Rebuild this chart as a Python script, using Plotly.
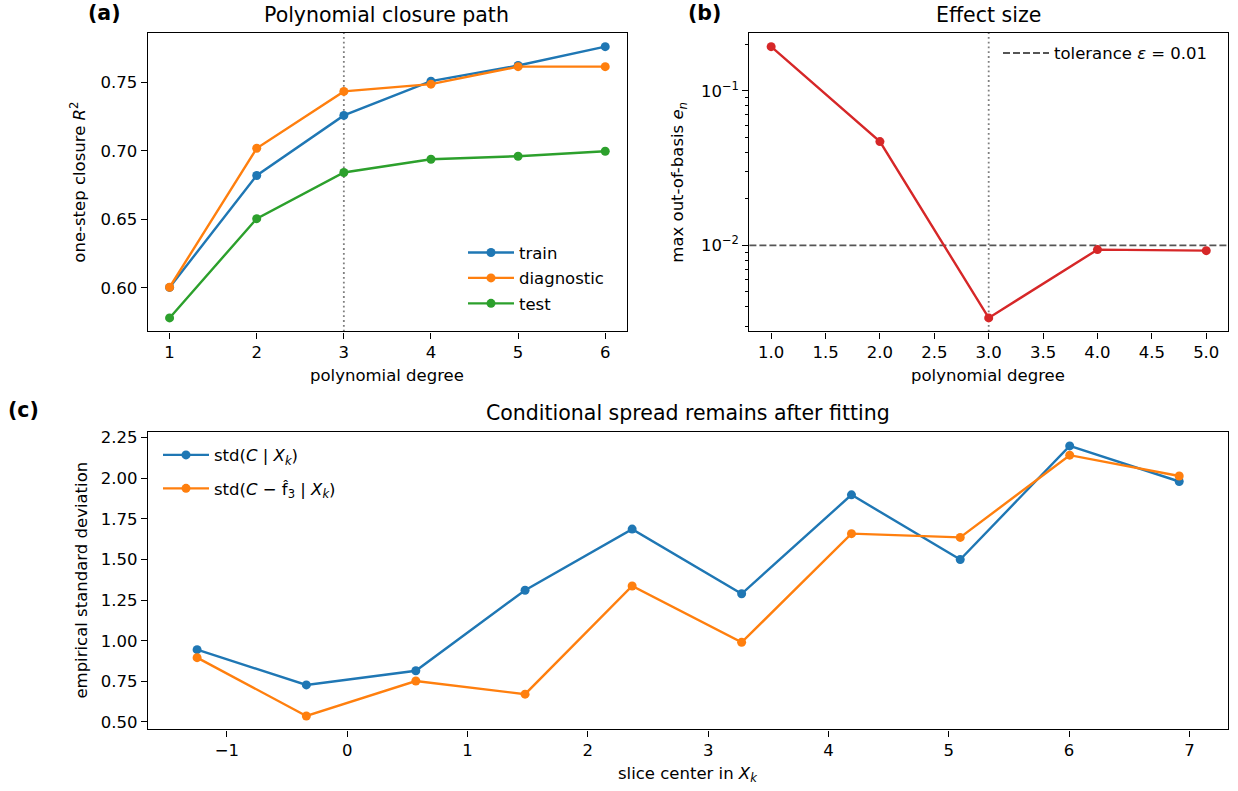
import math
import plotly.graph_objects as go

# ---------------- data ----------------
degrees_a = [1, 2, 3, 4, 5, 6]
r2_train = [0.6004, 0.6821, 0.7260, 0.7510, 0.7624, 0.7762]
r2_diag = [0.6005, 0.7020, 0.7435, 0.7488, 0.7616, 0.7616]
r2_test = [0.5781, 0.6506, 0.6843, 0.6940, 0.6962, 0.6998]

degrees_b = [1, 2, 3, 4, 5]
effect_size = [0.193, 0.0469, 0.00339, 0.00938, 0.00924]
tolerance = 0.01
chosen_degree = 3

slice_centers = [-1.248, -0.340, 0.570, 1.478, 2.368, 3.278, 4.191, 5.095, 6.005, 6.915]
std_raw = [0.945, 0.728, 0.815, 1.311, 1.687, 1.289, 1.898, 1.500, 2.199, 1.980]
std_resid = [0.896, 0.537, 0.752, 0.671, 1.337, 0.990, 1.659, 1.636, 2.142, 2.014]

a_yticks = [0.60, 0.65, 0.70, 0.75]
b_xticks = [1.0, 1.5, 2.0, 2.5, 3.0, 3.5, 4.0, 4.5, 5.0]
c_xticks = [-1, 0, 1, 2, 3, 4, 5, 6, 7]
c_yticks = [0.50, 0.75, 1.00, 1.25, 1.50, 1.75, 2.00, 2.25]

# ---------------- helpers ----------------
W, H = 1238, 791
BLUE, ORANGE, GREEN, RED = "#1f77b4", "#ff7f0e", "#2ca02c", "#d62728"
FONT = "DejaVu Sans"
TICK = 16.5
TITLE = 20.5


def fx(px):
    return px / W


def fy(py):
    return 1 - py / H


def pad(vals, frac=0.05):
    lo, hi = min(vals), max(vals)
    d = (hi - lo) * frac
    return [lo - d, hi + d]


fig = go.Figure()

line_w = 2.4
msize = 9

# panel (a)
for name, vals, col in [("train", r2_train, BLUE), ("diagnostic", r2_diag, ORANGE), ("test", r2_test, GREEN)]:
    fig.add_trace(go.Scatter(x=degrees_a, y=vals, mode="lines+markers", name=name,
                             line=dict(color=col, width=line_w), marker=dict(color=col, size=msize),
                             xaxis="x", yaxis="y", legend="legend", legendgroup=name))

# panel (b)
fig.add_trace(go.Scatter(x=degrees_b, y=effect_size, mode="lines+markers", showlegend=False,
                         line=dict(color=RED, width=line_w), marker=dict(color=RED, size=msize),
                         xaxis="x2", yaxis="y2"))

# panel (c)
fig.add_trace(go.Scatter(x=slice_centers, y=std_raw, mode="lines+markers",
                         name="std(<i>C</i> | <i>X</i><sub><i>k</i></sub>)",
                         line=dict(color=BLUE, width=line_w), marker=dict(color=BLUE, size=msize),
                         xaxis="x3", yaxis="y3", legend="legend3", legendgroup="raw"))
fig.add_trace(go.Scatter(x=slice_centers, y=std_resid, mode="lines+markers",
                         name="std(<i>C</i> − f\u0302<sub>3</sub> | <i>X</i><sub><i>k</i></sub>)",
                         line=dict(color=ORANGE, width=line_w), marker=dict(color=ORANGE, size=msize),
                         xaxis="x3", yaxis="y3", legend="legend3", legendgroup="resid"))

axis_common = dict(showline=True, linecolor="black", linewidth=1.3, mirror=True,
                   ticks="outside", ticklen=6, tickwidth=1.3, tickcolor="black",
                   showgrid=False, zeroline=False,
                   tickfont=dict(family=FONT, size=TICK, color="black"))

xa = [0.75, 6.25]
ya = pad(r2_train + r2_diag + r2_test)
xb = pad(degrees_b)
yb = pad([math.log10(v) for v in effect_size])
xc = pad(slice_centers)
yc = pad(std_raw + std_resid)

minor_b = [k * 10 ** e for e in (-3, -2, -1) for k in range(2, 10)]

legend_common = dict(xanchor="left", yanchor="top", bgcolor="rgba(0,0,0,0)",
                     font=dict(family=FONT, size=TICK, color="black"), itemwidth=46)

fig.update_layout(
    width=W, height=H, margin=dict(l=0, r=0, t=0, b=0),
    paper_bgcolor="white", plot_bgcolor="white",
    font=dict(family=FONT, size=TICK, color="black"),
    showlegend=True,
    xaxis=dict(axis_common, domain=[fx(147.8), fx(627)], range=xa, anchor="y",
               tickmode="array", tickvals=degrees_a, ticktext=[str(d) for d in degrees_a]),
    yaxis=dict(axis_common, domain=[fy(330), fy(29.3)], range=ya, anchor="x",
               tickmode="array", tickvals=a_yticks, ticktext=[f"{v:.2f}" for v in a_yticks]),
    xaxis2=dict(axis_common, domain=[fx(749.4), fx(1228)], range=xb, anchor="y2",
                tickmode="array", tickvals=b_xticks, ticktext=[f"{v:.1f}" for v in b_xticks]),
    yaxis2=dict(axis_common, domain=[fy(330), fy(29.3)], range=yb, anchor="x2", type="log",
                tickmode="array", tickvals=[0.01, 0.1],
                ticktext=["10<sup>−2</sup>", "10<sup>−1</sup>"],
                minor=dict(tickmode="array", tickvals=minor_b, ticks="outside", ticklen=3.5,
                           tickwidth=1, tickcolor="black", showgrid=False)),
    xaxis3=dict(axis_common, domain=[fx(148), fx(1228.3)], range=xc, anchor="y3",
                tickmode="array", tickvals=c_xticks,
                ticktext=[("−" + str(-v)) if v < 0 else str(v) for v in c_xticks]),
    yaxis3=dict(axis_common, domain=[fy(731), fy(431.7)], range=yc, anchor="x3",
                tickmode="array", tickvals=c_yticks, ticktext=[f"{v:.2f}" for v in c_yticks]),
    legend=dict(legend_common, x=fx(463), y=fy(233), tracegroupgap=1, traceorder="grouped"),
    legend2=dict(legend_common, x=fx(998), y=fy(32)),
    legend3=dict(legend_common, x=fx(158), y=fy(437), tracegroupgap=9, traceorder="grouped"),
)

# reference lines
for xr, yr in [("x", "y domain"), ("x2", "y2 domain")]:
    fig.add_shape(type="line", xref=xr, yref=yr, x0=chosen_degree, x1=chosen_degree, y0=0, y1=1,
                  line=dict(color="#7f7f7f", width=1.8, dash="1.8px,3px"), layer="below")
fig.add_shape(type="line", xref="x2 domain", yref="y2", x0=0, x1=1, y0=tolerance, y1=tolerance,
              line=dict(color="#555555", width=1.8, dash="7px,3px"), layer="below",
              showlegend=True, legend="legend2", name="tolerance <i>ε</i> = 0.01")

# titles, labels
ann = []


def text(x, y, s, size=TICK, bold=False, angle=0, xanchor="center"):
    ann.append(dict(x=fx(x), y=fy(y), xref="paper", yref="paper", text=f"<b>{s}</b>" if bold else s,
                    showarrow=False, xanchor=xanchor, yanchor="middle", textangle=angle,
                    font=dict(family=FONT, size=size, color="black")))


text(387, 11, "Polynomial closure path", size=TITLE)
text(988, 11, "Effect size", size=TITLE)
text(688, 412, "Conditional spread remains after fitting", size=TITLE)
text(86, 9, "(a)", size=TITLE, bold=True, xanchor="left")
text(686, 9, "(b)", size=TITLE, bold=True, xanchor="left")
text(6, 409, "(c)", size=TITLE, bold=True, xanchor="left")
text(387, 374, "polynomial degree")
text(988, 374, "polynomial degree")
text(688, 776, "slice center in <i>X</i><sub><i>k</i></sub>")
text(78, 180, "one-step closure <i>R</i><sup>2</sup>", angle=-90)
text(679, 180, "max out-of-basis <i>e</i><sub><i>n</i></sub>", angle=-90)
text(82, 581, "empirical standard deviation", angle=-90)
fig.update_layout(annotations=ann)

fig.write_html("out.html")
